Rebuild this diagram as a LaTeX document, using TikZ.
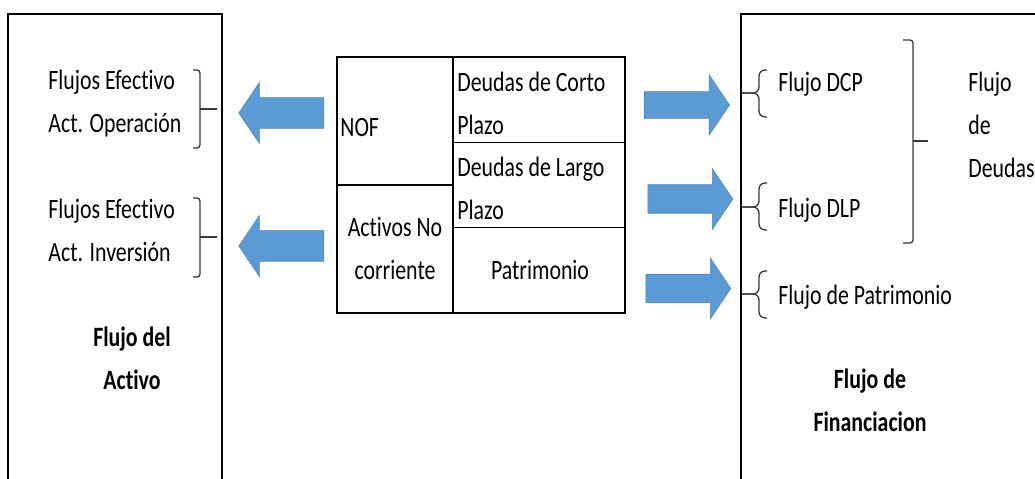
\documentclass[tikz,border=0pt]{standalone}
\usepackage{fontspec}
\setmainfont{Carlito}[FakeStretch=0.78, Ligatures=NoCommon]
\usetikzlibrary{shapes.arrows,positioning}
\definecolor{arrowblue}{HTML}{5B9BD5}
\definecolor{arrowline}{HTML}{4F89C4}
\definecolor{bracegray}{HTML}{3A3A3A}
\tikzstyle{cell} = [rectangle, draw, line width=0.65pt, inner sep=0pt, minimum width=58pt, minimum height=64pt]
\tikzstyle{txt} = [inner sep=0pt, font=\fontsize{14pt}{21.5pt}\selectfont]
\tikzstyle{boldtxt} = [inner sep=0pt, font=\fontsize{14pt}{21.5pt}\selectfont\bfseries]
\tikzstyle{blockarrow} = [single arrow, draw=arrowline, fill=arrowblue, line width=0.3pt, inner xsep=0pt, inner ysep=7.5pt, minimum height=42.5pt, minimum width=30pt, single arrow head extend=7.5pt, single arrow tip angle=112]
\tikzstyle{brk} = [line width=0.65pt, draw=bracegray, rounded corners=1.5pt]
\tikzstyle{boxline} = [line width=0.6pt]

\begin{document}
\begin{tikzpicture}[x=0.5pt, y=-0.5pt]
            \useasboundingbox (0,0) rectangle (1035,478);
            \clip (0,0) rectangle (1035,478);
            \fill [white] (0,0) rectangle (1035,478);
            % frames
            \draw [boxline] (8,490) -- (8,14) -- (222,14) -- (222,490);
            \draw [boxline] (741,490) -- (741,14) -- (1045,14);
            % balance table (base anchor = last line)
            \node (nof) [cell] at (395,121) {};
            \node (anc) [cell, node distance=64pt, below of = nof] {};
            \node (dcp) [cell, minimum width=86pt, minimum height=42.67pt] at (539,99.67) {};
            \node (dlp) [cell, minimum width=86pt, minimum height=42.67pt, node distance=42.67pt, below of = dcp] {};
            \node (pat) [cell, minimum width=86pt, minimum height=42.67pt, node distance=42.67pt, below of = dlp] {};
            \node (nofT) [txt, anchor=base west] at (340,136) {NOF};
            \node (ancT) [txt, align=center, anchor=base] at (395,279) {Activos No\\corriente};
            \node (dcpT) [txt, align=left, anchor=base west] at (457,134) {Deudas de Corto\\Plazo};
            \node (dlpT) [txt, align=left, anchor=base west] at (457,219) {Deudas de Largo\\Plazo};
            \node (patT) [txt, anchor=base] at (540,279) {Patrimonio};
            % left side
            \node (opT) [txt, align=left, anchor=base west] at (48,132) {Flujos Efectivo\\Act. Operación};
            \node (invT) [txt, align=left, anchor=base west] at (48,261) {Flujos Efectivo\\Act. Inversión};
            \node (actT) [boldtxt, align=center, anchor=base] at (132,389) {Flujo del\\Activo};
            \draw [brk] (193,70) -- (200,70) -- (200,148) -- (193,148);
            \draw [brk] (200,109) -- (217,109);
            \draw [brk] (193,198) -- (200,198) -- (200,277) -- (193,277);
            \draw [brk] (200,237) -- (217,237);
            \node (la1) [blockarrow, shape border rotate=180] at (286.5,113) {};
            \node (la2) [blockarrow, shape border rotate=180] at (286.5,246) {};
            % right side
            \node (ra1) [blockarrow, inner ysep=6.5pt, single arrow head extend=8.5pt] at (682.5,105) {};
            \node (ra2) [blockarrow, inner ysep=7pt, single arrow head extend=8pt] at (685.5,199) {};
            \node (ra3) [blockarrow, inner ysep=7pt, single arrow head extend=8pt] at (683.5,288.5) {};
            \node (fdcp) [txt, anchor=base west] at (778,91) {Flujo DCP};
            \node (fdlp) [txt, anchor=base west] at (778,217) {Flujo DLP};
            \node (fpat) [txt, anchor=base west] at (778,304) {Flujo de Patrimonio};
            \node (fdeu) [txt, align=left, anchor=base west] at (968,177) {Flujo\\de\\Deudas};
            \node (finT) [boldtxt, align=center, anchor=base] at (870,431) {Flujo de\\Financiacion};
            \draw [brk, rounded corners=3pt] (767,70) -- (759,70) -- (759,93) -- (742,93);
            \draw [brk, rounded corners=3pt] (767,117) -- (759,117) -- (759,93) -- (742,93);
            \draw [brk, rounded corners=3pt] (767,183) -- (759,183) -- (759,207) -- (742,207);
            \draw [brk, rounded corners=3pt] (767,230) -- (759,230) -- (759,207) -- (742,207);
            \draw [brk, rounded corners=3pt] (767,271) -- (759,271) -- (759,294) -- (742,294);
            \draw [brk, rounded corners=3pt] (767,318) -- (759,318) -- (759,294) -- (742,294);
            \draw [brk] (903,40) -- (913,40) -- (913,243) -- (903,243);
            \draw [brk] (913,141) -- (928,141);
\end{tikzpicture}
\end{document}
